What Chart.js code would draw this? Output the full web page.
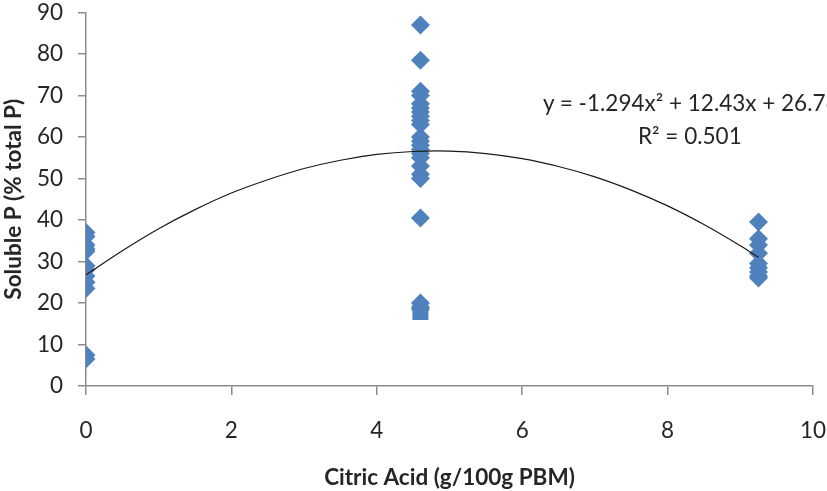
<!DOCTYPE html>
<html>
<head>
<meta charset="utf-8">
<script src="https://cdn.jsdelivr.net/npm/chart.js@4.4.1/dist/chart.umd.min.js"></script>
<style>
  html, body { margin: 0; padding: 0; background: #fff; overflow: hidden; width: 827px; height: 491px; }
  #wrap { position: absolute; left: 0; top: -16px; width: 850px; height: 507px; }
  .eq { position: absolute; font-family: Lato, "Open Sans", sans-serif; font-size: 22.5px; color: #262626; white-space: nowrap; }
</style>
</head>
<body>
<div id="wrap"><canvas id="c"></canvas></div>
<div class="eq" style="left:543px; top:89px;">y = -1.294x² + 12.43x + 26.76</div>
<div class="eq" style="left:638px; top:122px;">R² = 0.501</div>
<script>
const xZero = [0, 0, 0, 0, 0, 0, 0, 0, 0, 0, 0, 0];
const yZero = [37, 36, 34, 33, 32.5, 29, 28, 26.5, 25, 23.5, 7.5, 6.5];
const xMid = [4.6, 4.6, 4.6, 4.6, 4.6, 4.6, 4.6, 4.6, 4.6, 4.6, 4.6, 4.6, 4.6, 4.6, 4.6, 4.6, 4.6, 4.6, 4.6, 4.6, 4.6, 4.6, 4.6, 4.6];
const yMid = [87, 78.5, 71, 70, 68, 67, 66, 65, 64, 63, 60, 59, 58, 57, 56, 55, 53, 51, 50, 40.5, 20, 19, 18.5, 17.8];
const xHigh = [9.25, 9.25, 9.25, 9.25, 9.25, 9.25, 9.25, 9.25, 9.25];
const yHigh = [39.5, 35.5, 34, 32, 29.5, 28.5, 27.5, 26.5, 26];
// Trendline as drawn
const trendX = [0, 0.5, 1, 1.5, 2, 2.5, 3, 3.5, 4, 4.5, 5, 5.5, 6, 6.5, 7, 7.5, 8, 8.5, 9, 9.25];
const trendY = [26.8, 32.6, 37.9, 42.5, 46.5, 49.7, 52.4, 54.4, 55.8, 56.5, 56.6, 56.0, 54.8, 52.9, 50.4, 47.2, 43.4, 38.9, 33.8, 31.0];
// Axis ticks
const xTicks = [0, 2, 4, 6, 8, 10];
const yTicks = [0, 10, 20, 30, 40, 50, 60, 70, 80, 90];

const allX = xZero.concat(xMid, xHigh);
const allY = yZero.concat(yMid, yHigh);
const pts = allX.map((x, i) => ({ x: x, y: allY[i] }));
const trend = trendX.map((x, i) => ({ x: x, y: trendY[i] }));
const squareIdx = yZero.length + yMid.length - 1;
const styles = pts.map((p, i) => (i === squareIdx ? 'rect' : 'rectRot'));
const radii = pts.map((p, i) => (i === squareIdx ? 11.3 : 9.5));

const FONT = 'Lato, "Open Sans", sans-serif';
const FS = 22.5;
const axisColor = '#8c8c8c';

new Chart(document.getElementById('c'), {
  type: 'scatter',
  data: {
    datasets: [
      {
        type: 'line',
        data: trend,
        borderColor: '#1a1a1a',
        borderWidth: 1.2,
        pointRadius: 0,
        tension: 0.3,
        fill: false,
        order: 0
      },
      {
        data: pts,
        pointStyle: styles,
        pointRadius: radii,
        pointBackgroundColor: '#4f81bd',
        pointBorderColor: '#4f81bd',
        pointBorderWidth: 0,
        pointHoverRadius: radii,
        order: 1
      }
    ]
  },
  options: {
    responsive: true,
    maintainAspectRatio: false,
    animation: false,
    layout: { padding: { top: 0, right: 37, bottom: 0, left: 0 } },
    plugins: { legend: { display: false }, tooltip: { enabled: false } },
    scales: {
      x: {
        type: 'linear',
        min: 0, max: 10,
        afterBuildTicks: s => { s.ticks = xTicks.map(v => ({ value: v })); },
        afterFit: s => { s.height = 105; },
        border: { color: axisColor, width: 1.5 },
        grid: { display: true, drawOnChartArea: false, drawTicks: true, tickLength: 9, color: axisColor, lineWidth: 1.5 },
        ticks: { color: '#262626', font: { family: FONT, size: FS }, padding: 22 },
        title: { display: true, text: 'Citric Acid (g/100g PBM)', color: '#262626', font: { family: FONT, size: FS, weight: 'bold' }, padding: { top: 10, bottom: 0 } }
      },
      y: {
        type: 'linear',
        min: 0, max: 90,
        afterBuildTicks: s => { s.ticks = yTicks.map(v => ({ value: v })); },
        afterFit: s => { s.width = 86; },
        border: { color: axisColor, width: 1.5 },
        grid: { display: true, drawOnChartArea: false, drawTicks: true, tickLength: 8, color: axisColor, lineWidth: 1.5 },
        ticks: { color: '#262626', font: { family: FONT, size: FS }, padding: 15 },
        title: { display: true, text: 'Soluble P (% total P)', color: '#262626', font: { family: FONT, size: FS, weight: 'bold' }, padding: { top: 0, bottom: 2 } }
      }
    }
  }
});
</script>
</body>
</html>
